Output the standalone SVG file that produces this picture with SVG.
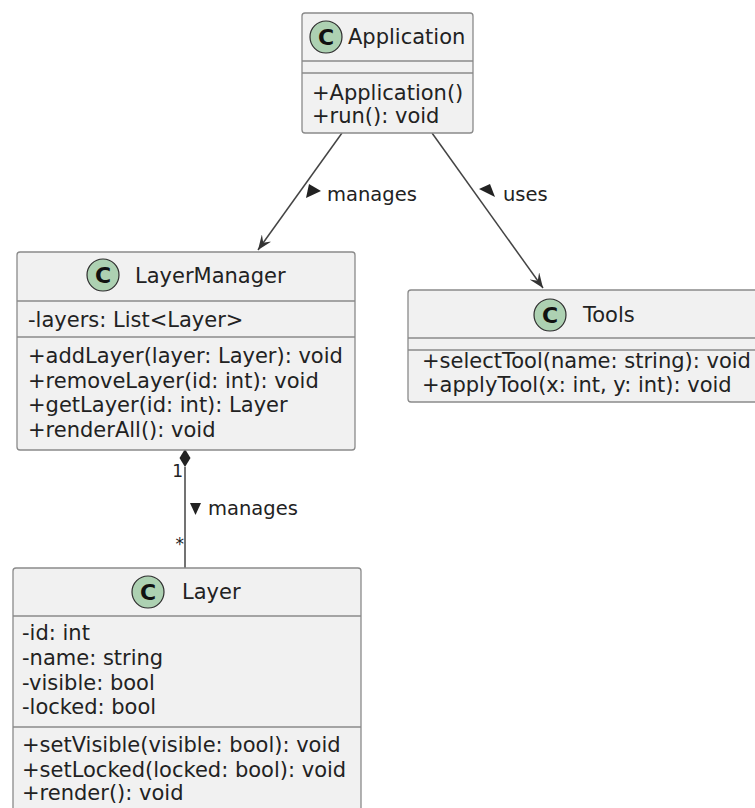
<svg xmlns="http://www.w3.org/2000/svg" width="755" height="808" viewBox="0 0 755 808">
<style>
.box{fill:#F1F1F1;stroke:#8a8a8a;stroke-width:1.3}
.div{stroke:#8a8a8a;stroke-width:1.3}
.circ{fill:#ADD1B2;stroke:#2e2e2e;stroke-width:1.2}
.cl{font-family:"DejaVu Sans",sans-serif;font-size:22px;font-weight:bold;fill:#111;text-anchor:middle}
.t{font-family:"DejaVu Sans",sans-serif;font-size:21px;fill:#222}
.lbl{font-family:"DejaVu Sans",sans-serif;font-size:19.5px;fill:#222}
.mult{font-family:"DejaVu Sans",sans-serif;font-size:17px;fill:#222;text-anchor:end}
.edge{stroke:#444;stroke-width:1.5;fill:none}
</style>
<defs>
<marker id="arr" viewBox="0 0 15 12" refX="15" refY="6" markerWidth="15" markerHeight="12" markerUnits="userSpaceOnUse" orient="auto">
<path d="M0,0 L15,6 L0,12 L6,6 Z" fill="#333"/>
</marker>
</defs>
<g id="connectors">
<line class="edge" x1="342" y1="133" x2="258" y2="250" marker-end="url(#arr)"/>
<polygon points="309,184 321,191 306,198" fill="#222"/>
<text class="lbl" x="327" y="201">manages</text>
<line class="edge" x1="432" y1="133" x2="543" y2="288" marker-end="url(#arr)"/>
<polygon points="479,189 490,184 495,197" fill="#222"/>
<text class="lbl" x="503" y="201">uses</text>
<line class="edge" x1="185" y1="467" x2="185" y2="568"/>
<polygon points="185,449 190.5,458 185,467 179.5,458" fill="#222"/>
<text class="mult" x="183" y="477">1</text>
<text class="mult" x="184" y="550">*</text>
<polygon points="190,503 201,503 195.5,515" fill="#222"/>
<text class="lbl" x="208" y="515">manages</text>
</g>
<g id="Application">
<rect class="box" x="302" y="13" width="171" height="120" rx="3"/>
<line class="div" x1="302" y1="61" x2="473" y2="61"/>
<line class="div" x1="302" y1="73" x2="473" y2="73"/>
<circle class="circ" cx="326" cy="37" r="16"/>
<text class="cl" x="326" y="45">C</text>
<text class="t" x="348" y="44">Application</text>
<text class="t" x="312" y="100">+Application()</text>
<text class="t" x="312" y="123">+run(): void</text>
</g>
<g id="LayerManager">
<rect class="box" x="17" y="252" width="338" height="198" rx="3"/>
<line class="div" x1="17" y1="301" x2="355" y2="301"/>
<line class="div" x1="17" y1="337" x2="355" y2="337"/>
<circle class="circ" cx="103" cy="275" r="16"/>
<text class="cl" x="103" y="283">C</text>
<text class="t" x="135" y="283">LayerManager</text>
<text class="t" x="28" y="327">-layers: List&lt;Layer&gt;</text>
<text class="t" x="28" y="363">+addLayer(layer: Layer): void</text>
<text class="t" x="28" y="388">+removeLayer(id: int): void</text>
<text class="t" x="28" y="412">+getLayer(id: int): Layer</text>
<text class="t" x="28" y="437">+renderAll(): void</text>
</g>
<g id="Tools">
<rect class="box" x="408" y="290" width="370" height="112" rx="3"/>
<line class="div" x1="408" y1="338" x2="778" y2="338"/>
<line class="div" x1="408" y1="350" x2="778" y2="350"/>
<circle class="circ" cx="550" cy="315" r="16"/>
<text class="cl" x="550" y="323">C</text>
<text class="t" x="583" y="322">Tools</text>
<text class="t" x="422" y="368">+selectTool(name: string): void</text>
<text class="t" x="422" y="392">+applyTool(x: int, y: int): void</text>
</g>
<g id="Layer">
<rect class="box" x="13" y="568" width="348" height="250" rx="3"/>
<line class="div" x1="13" y1="616" x2="361" y2="616"/>
<line class="div" x1="13" y1="727" x2="361" y2="727"/>
<circle class="circ" cx="148" cy="592" r="16"/>
<text class="cl" x="148" y="600">C</text>
<text class="t" x="182" y="599">Layer</text>
<text class="t" x="22" y="640">-id: int</text>
<text class="t" x="22" y="665">-name: string</text>
<text class="t" x="22" y="690">-visible: bool</text>
<text class="t" x="22" y="714">-locked: bool</text>
<text class="t" x="22" y="752">+setVisible(visible: bool): void</text>
<text class="t" x="22" y="777">+setLocked(locked: bool): void</text>
<text class="t" x="22" y="800">+render(): void</text>
</g>
</svg>
